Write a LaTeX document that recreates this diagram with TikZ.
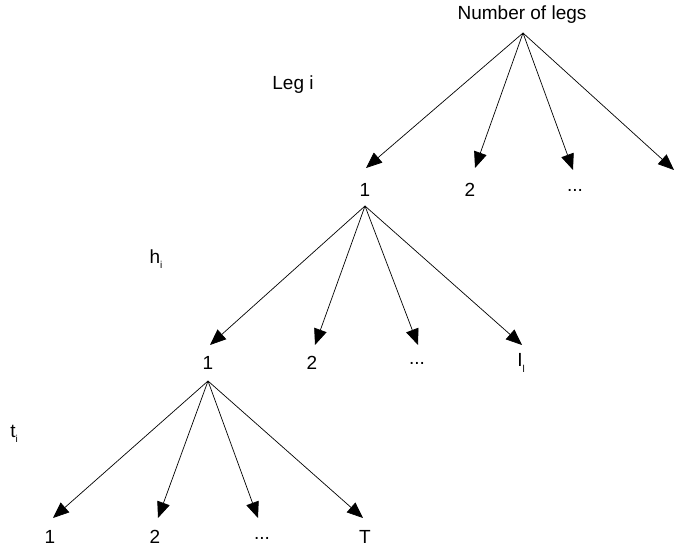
\documentclass[tikz,border=0pt]{standalone}
\usepackage{fontspec}
\setmainfont{Liberation Sans}
\usetikzlibrary{arrows.meta}
\newcommand{\lowsub}[1]{\raisebox{-0.55ex}{\fontsize{10}{10}\selectfont #1}}
\begin{document}
\begin{tikzpicture}[x=1pt,y=-1pt]

              % Definitions
              \tikzstyle{Label} = [inner sep=0pt, font=\fontsize{19}{20}\selectfont]
              \tikzstyle{arrow} = [line width=0.7pt,-{Triangle[length=16pt,width=13pt]}]

              \useasboundingbox (0,0) rectangle (676,548);

              % top level
              \node (Legs) [Label] at (522,15) {Number of legs};
              \coordinate (A0) at (523,33);
              \node (LegI) [Label] at (293,85) {Leg i};
              \coordinate (T11) at (366,168);
              \coordinate (T12) at (475,168);
              \coordinate (T13) at (573,170);
              \coordinate (T14) at (674,170);
              \node (N11) [Label] at (365,190) {1};
              \node (N12) [Label] at (470,190) {2};
              \node (N13) [Label] at (575,190) {...};

              % second level
              \coordinate (A1) at (365,206);
              \node (H) [Label] at (156,259) {h\lowsub{i}};
              \coordinate (T21) at (210,345);
              \coordinate (T22) at (315,345);
              \coordinate (T23) at (418,345);
              \coordinate (T24) at (522,345);
              \node (N21) [Label] at (208,363) {1};
              \node (N22) [Label] at (312,363) {2};
              \node (N23) [Label] at (417,363) {...};
              \node (N24) [Label] at (521,363) {I\lowsub{l}};

              % third level
              \coordinate (A2) at (208,381);
              \node (Ti) [Label] at (14,434) {t\lowsub{i}};
              \coordinate (T31) at (53,518);
              \coordinate (T32) at (158,518);
              \coordinate (T33) at (258,518);
              \coordinate (T34) at (363,518);
              \node (N31) [Label] at (50,537) {1};
              \node (N32) [Label] at (155,537) {2};
              \node (N33) [Label] at (262,538) {...};
              \node (N34) [Label] at (365,537) {T};

              \draw [arrow] (A0) -- (T11);
              \draw [arrow] (A0) -- (T12);
              \draw [arrow] (A0) -- (T13);
              \draw [arrow] (A0) -- (T14);

              \draw [arrow] (A1) -- (T21);
              \draw [arrow] (A1) -- (T22);
              \draw [arrow] (A1) -- (T23);
              \draw [arrow] (A1) -- (T24);

              \draw [arrow] (A2) -- (T31);
              \draw [arrow] (A2) -- (T32);
              \draw [arrow] (A2) -- (T33);
              \draw [arrow] (A2) -- (T34);

            \end{tikzpicture}
\end{document}
